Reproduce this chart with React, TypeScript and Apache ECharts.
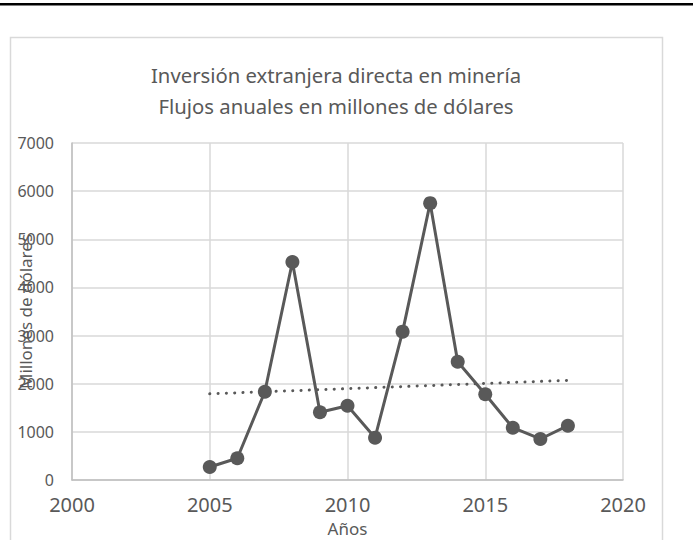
import React, { useEffect, useRef } from "react";
import * as echarts from "echarts";

const years = [2005, 2006, 2007, 2008, 2009, 2010, 2011, 2012, 2013, 2014, 2015, 2016, 2017, 2018];
const values = [270, 451, 1834, 4528, 1406, 1543, 879, 3081, 5750, 2457, 1780, 1086, 852, 1128];
const trendYears = [2005, 2018];
const trendValues = [1790, 2070];
const titleLines = ["Inversión extranjera directa en minería", "Flujos anuales en millones de dólares"];
const xAxisName = "Años";
const yAxisName = "Millones de dólares";

const FONT = "'Noto Sans', 'Open Sans', sans-serif";
const GRAY = "#595959";

export default function App() {
  const ref = useRef<HTMLDivElement>(null);
  useEffect(() => {
    if (!ref.current) return;
    const chart = echarts.init(ref.current, undefined, { renderer: "svg" });
    chart.setOption({
      animation: false,
      backgroundColor: "#ffffff",
      textStyle: { fontFamily: FONT },
      graphic: [
        { type: "rect", shape: { x: 0, y: 3, width: 693, height: 2.5 }, style: { fill: "#000000" } },
        {
          type: "rect",
          shape: { x: 10.5, y: 37.5, width: 652, height: 520 },
          style: { fill: "none", stroke: "#d9d9d9", lineWidth: 1.5 },
        },
        {
          type: "text",
          x: 336,
          y: 75,
          style: { text: titleLines[0], fill: GRAY, fontSize: 20.3, fontFamily: FONT, align: "center", verticalAlign: "middle" },
        },
        {
          type: "text",
          x: 336,
          y: 106,
          style: { text: titleLines[1], fill: GRAY, fontSize: 20.3, fontFamily: FONT, align: "center", verticalAlign: "middle" },
        },
      ],
      grid: { left: 72, right: 70, top: 143, bottom: 60, containLabel: false, outerBoundsMode: "none" },
      xAxis: {
        type: "value",
        min: 2000,
        max: 2020,
        interval: 5,
        name: xAxisName,
        nameLocation: "middle",
        nameGap: 40,
        nameMoveOverlap: false,
        nameTextStyle: { color: GRAY, fontSize: 17, lineHeight: 17, fontFamily: FONT },
        axisLine: { show: true, lineStyle: { color: "#bfbfbf", width: 1.5 } },
        axisTick: { show: false },
        axisLabel: { color: GRAY, fontSize: 20, lineHeight: 20, fontFamily: FONT, margin: 14, formatter: (v: number) => String(v) },
        splitLine: { show: true, lineStyle: { color: "#d9d9d9", width: 1.5 } },
      },
      yAxis: {
        type: "value",
        min: 0,
        max: 7000,
        interval: 1000,
        name: yAxisName,
        nameLocation: "middle",
        nameGap: 38,
        nameRotate: 90,
        nameMoveOverlap: false,
        nameTextStyle: { color: GRAY, fontSize: 17, fontFamily: FONT },
        axisLine: { show: true, lineStyle: { color: "#bfbfbf", width: 1.5 } },
        axisTick: { show: false },
        axisLabel: { color: GRAY, fontSize: 16, fontFamily: FONT, margin: 18, formatter: (v: number) => String(v) },
        splitLine: { show: true, lineStyle: { color: "#d9d9d9", width: 1.5 } },
      },
      series: [
        {
          type: "line",
          data: years.map((y, i) => [y, values[i]]),
          lineStyle: { color: GRAY, width: 3 },
          itemStyle: { color: GRAY },
          symbol: "circle",
          symbolSize: 14,
          z: 3,
        },
        {
          type: "line",
          data: trendYears.map((y, i) => [y, trendValues[i]]),
          lineStyle: { color: GRAY, width: 3, type: [0.1, 8.2], cap: "round" },
          symbol: "none",
          z: 2,
        },
      ],
    });
    return () => chart.dispose();
  }, []);
  return <div ref={ref} style={{ position: "fixed", left: 0, top: 0, width: 693, height: 540 }} />;
}
